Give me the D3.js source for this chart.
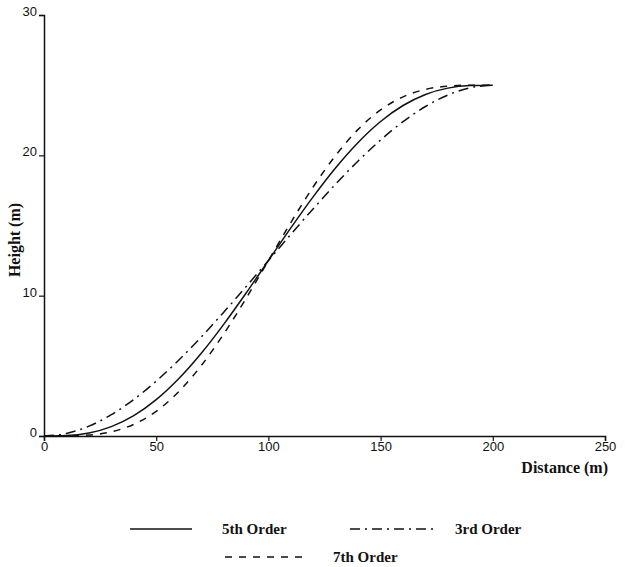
<!DOCTYPE html>
<html>
<head>
<meta charset="utf-8">
<script src="https://cdn.jsdelivr.net/npm/d3@7"></script>
<style>
  body { margin: 0; background: #fff; }
  .tick text { font-family: "Liberation Sans", Arial, sans-serif; font-size: 13px; fill: #111; }
  .title { font-family: "Liberation Serif", "Times New Roman", serif; font-weight: bold; font-size: 16px; fill: #111; }
  .legend-text { font-family: "Liberation Serif", "Times New Roman", serif; font-weight: bold; font-size: 15px; fill: #111; }
</style>
</head>
<body>
<div id="chart"></div>
<script>
// distance along the profile (m)
const distance = [0, 10, 20, 30, 40, 50, 60, 70, 80, 90, 100,
                  110, 120, 130, 140, 150, 160, 170, 180, 190, 200];

// heights (m)
const order3 = [0, 0.18, 0.70, 1.52, 2.60, 3.91, 5.40, 7.04, 8.80, 10.63, 12.5,
                14.37, 16.20, 17.96, 19.60, 21.09, 22.40, 23.48, 24.30, 24.82, 25];
const order5 = [0, 0.03, 0.21, 0.67, 1.45, 2.59, 4.08, 5.88, 7.94, 10.17, 12.5,
                14.83, 17.06, 19.12, 20.92, 22.41, 23.55, 24.34, 24.79, 24.97, 25];
const order7 = [0, 0.01, 0.07, 0.30, 0.83, 1.76, 3.15, 5.00, 7.25, 9.79, 12.5,
                15.21, 17.76, 20.00, 21.85, 23.24, 24.17, 24.70, 24.93, 25.00, 25];

const xTicks = [0, 50, 100, 150, 200, 250];
const yTicks = [0, 10, 20, 30];

const width = 625, height = 567;
const x0 = 44, x1 = 605, y0 = 436, y1 = 15;

const svg = d3.select("#chart").append("svg")
  .attr("width", width)
  .attr("height", height);

const x = d3.scaleLinear().domain([0, 250]).range([x0, x1]);
const y = d3.scaleLinear().domain([0, 30]).range([y0, y1]);

const xAxis = svg.append("g")
  .attr("transform", `translate(0,${y0})`)
  .call(d3.axisBottom(x).tickValues(xTicks).tickSize(5).tickPadding(1));

const yAxis = svg.append("g")
  .attr("transform", `translate(${x0},0)`)
  .call(d3.axisLeft(y).tickValues(yTicks).tickSize(5).tickPadding(2));

[xAxis, yAxis].forEach(g => {
  g.select(".domain").attr("stroke", "#111").attr("stroke-width", 1.5);
  g.selectAll(".tick line").attr("stroke", "#111").attr("stroke-width", 1.2);
});
yAxis.selectAll(".tick text").attr("dy", "0.05em");

const series = [
  {name: "5th Order", values: order5, dash: null},
  {name: "3rd Order", values: order3, dash: "10,5,2,5"},
  {name: "7th Order", values: order7, dash: "7,7"}
];

const line = d3.line()
  .x((d, i) => x(distance[i]))
  .y(d => y(d))
  .curve(d3.curveMonotoneX);

svg.selectAll(".curve")
  .data(series)
  .enter()
  .append("path")
  .attr("class", "curve")
  .attr("fill", "none")
  .attr("stroke", "#111")
  .attr("stroke-width", 1.5)
  .attr("stroke-dasharray", d => d.dash)
  .attr("d", d => line(d.values));

// axis titles
svg.append("text")
  .attr("class", "title")
  .attr("x", x1 + 3)
  .attr("y", 473)
  .attr("text-anchor", "end")
  .text("Distance (m)");

svg.append("text")
  .attr("class", "title")
  .attr("transform", "translate(20,240) rotate(-90)")
  .attr("text-anchor", "middle")
  .text("Height (m)");

// legend
const legend = [
  {s: series[0], lx: 130, lw: 62, tx: 222, ty: 529},
  {s: series[1], lx: 350, lw: 85, tx: 455, ty: 529},
  {s: series[2], lx: 225, lw: 78, tx: 333, ty: 557}
];

legend.forEach(d => {
  svg.append("line")
    .attr("x1", d.lx).attr("x2", d.lx + d.lw)
    .attr("y1", d.ty).attr("y2", d.ty)
    .attr("stroke", "#111")
    .attr("stroke-width", 1.5)
    .attr("stroke-dasharray", d.s.dash);
  svg.append("text")
    .attr("class", "legend-text")
    .attr("x", d.tx)
    .attr("y", d.ty + 5)
    .text(d.s.name);
});
</script>
</body>
</html>
